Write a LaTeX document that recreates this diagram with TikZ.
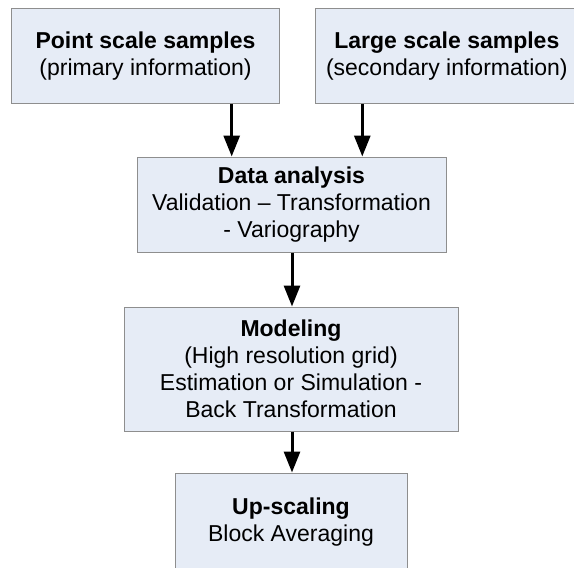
\documentclass[tikz,border=0pt]{standalone}
\usepackage{fontspec}
\setmainfont{Liberation Sans}
\usetikzlibrary{arrows.meta}
\definecolor{boxfill}{RGB}{230,236,246}
\definecolor{boxline}{RGB}{142,142,142}
\tikzset{
  stepbox/.style={draw=boxline, line width=1pt, fill=boxfill, inner sep=0pt,
    align=center, font=\fontsize{23}{27}\selectfont},
  arr/.style={line width=3pt, -{Triangle[width=16pt,length=21pt]}}
}
\begin{document}
\begin{tikzpicture}[x=1pt,y=-1pt]
\useasboundingbox (0,0) rectangle (574,568);
\node[stepbox, minimum width=267.6pt, minimum height=95pt] (a) at (145.5,55.8)
  {\textbf{Point scale samples}\\(primary information)};
\node[stepbox, minimum width=262.3pt, minimum height=95pt] (b) at (446.85,55.8)
  {\textbf{Large scale samples}\\(secondary information)};
\node[stepbox, minimum width=309pt, minimum height=95pt] (c) at (291.5,204.5)
  {\textbf{Data analysis}\\Validation -- Transformation\\- Variography};
\node[stepbox, minimum width=334pt, minimum height=124pt] (d) at (291,369)
  {\textbf{Modeling}\\(High resolution grid)\\Estimation or Simulation -\\Back Transformation};
\node[stepbox, minimum width=232pt, minimum height=98pt] (e) at (291,522)
  {\textbf{Up-scaling}\\Block Averaging};
\coordinate (x1) at (231.7,0);
\coordinate (x2) at (362.3,0);
\coordinate (x3) at (292,0);
\draw[arr] (a.south -| x1) -- (c.north -| x1);
\draw[arr] (b.south -| x2) -- (c.north -| x2);
\draw[arr] (c.south -| x3) -- (d.north -| x3);
\draw[arr] (d.south -| x3) -- (e.north -| x3);
\end{tikzpicture}
\end{document}
